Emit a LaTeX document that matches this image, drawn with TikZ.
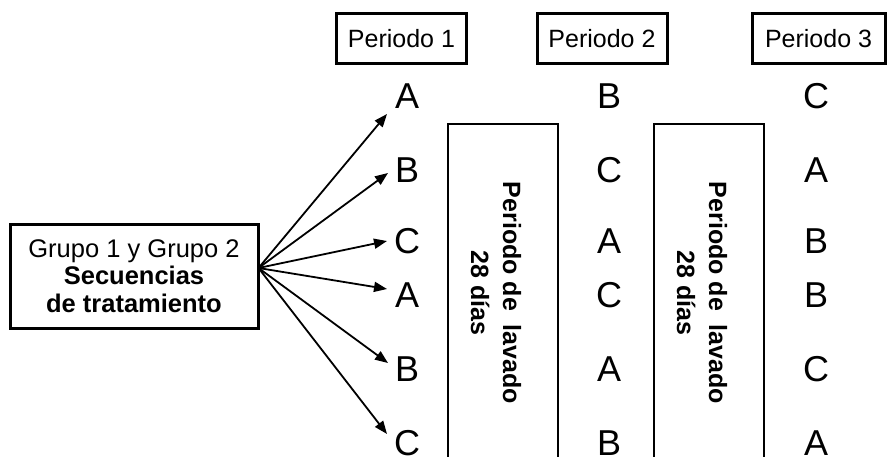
\documentclass[tikz,border=0pt]{standalone}
\usepackage{fontspec}
\setmainfont{Liberation Sans}
\usetikzlibrary{arrows.meta,calc}
\begin{document}
\begin{tikzpicture}[x=1pt,y=-1pt,
  pbox/.style={draw,line width=3pt,minimum width=130pt,minimum height=50pt,inner sep=0pt,font=\fontsize{25}{30}\selectfont},
  gbox/.style={draw,line width=3pt,minimum width=248pt,minimum height=104pt,inner sep=0pt,align=center,font=\fontsize{25.5}{27.5}\selectfont},
  wbox/.style={draw,line width=1.6pt,minimum width=110pt,minimum height=360pt,inner sep=0pt,anchor=north},
  wtext/.style={rotate=-90,align=center,inner sep=0pt,font=\bfseries\fontsize{25}{32}\selectfont},
  letter/.style={inner sep=0pt,font=\fontsize{36}{42}\selectfont},
  arr/.style={line width=1.8pt,-{Triangle[length=13pt,width=10pt]}}]
\clip (0,0) rectangle (888,457);
% period boxes
\node[pbox] (p1) at (401.5,39) {Periodo 1};
\node[pbox] (p2) at (602,39) {Periodo 2};
\node[pbox,minimum width=133pt] (p3) at (818.5,39) {Periodo 3};
% group box
\node[gbox] (g) at (134,276) {Grupo 1 y Grupo 2\\ \textbf{Secuencias}\\ \textbf{de tratamiento}};
\coordinate (o) at ($(g.east)+(-1,-8)$);
% washout boxes
\node[wbox] (w1) at (503,123) {};
\node[wbox] (w2) at (709,123) {};
\node[wtext] (t1) at (496,293) {Periodo de\ \ lavado\\28 días};
\node[wtext] (t2) at (702,293) {Periodo de\ \ lavado\\28 días};
% letters
\foreach \n/\y/\a/\b/\c in {1/96/A/B/C,2/170/B/C/A,3/241/C/A/B,4/295/A/C/B,5/369/B/A/C,6/443/C/B/A}{
  \node[letter] (l\n) at (407,\y) {\a};
  \node[letter] (m\n) at (609,\y) {\b};
  \node[letter] (r\n) at (816,\y) {\c};
}
% arrows
\draw[arr] (o) -- ($(l1)+(-20,18)$);
\draw[arr] (o) -- ($(l2)+(-19,3)$);
\draw[arr] (o) -- ($(l3)+(-20,0)$);
\draw[arr] (o) -- ($(l4)+(-20,-6)$);
\draw[arr] (o) -- ($(l5)+(-19,-6)$);
\draw[arr] (o) -- ($(l6)+(-20,-9)$);
\end{tikzpicture}
\end{document}
